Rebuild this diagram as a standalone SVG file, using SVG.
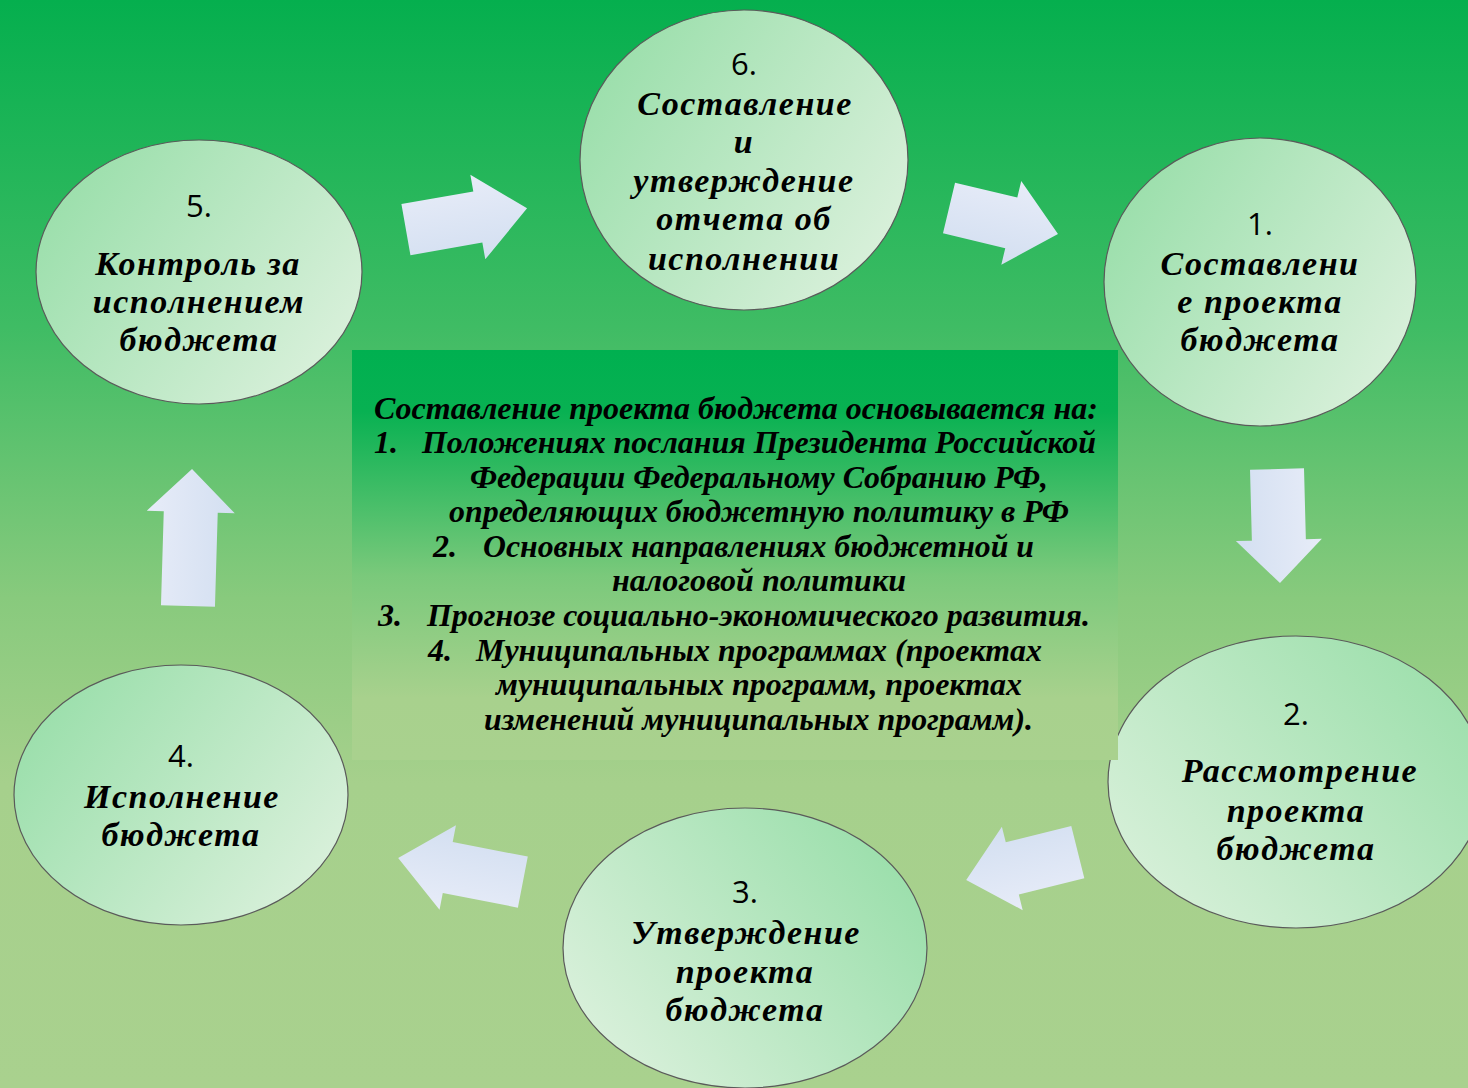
<svg xmlns="http://www.w3.org/2000/svg" width="1468" height="1088" viewBox="0 0 1468 1088">
<defs>
<linearGradient id="bg" x1="0" y1="0" x2="0" y2="1">
<stop offset="0" stop-color="#05af4e"/>
<stop offset="0.3" stop-color="#3fbc64"/>
<stop offset="0.55" stop-color="#88ca7d"/>
<stop offset="0.72" stop-color="#a6d08c"/>
<stop offset="1" stop-color="#a9d18e"/>
</linearGradient>
<linearGradient id="box" x1="0" y1="0" x2="0" y2="1">
<stop offset="0" stop-color="#00b050"/>
<stop offset="0.15" stop-color="#08b152"/>
<stop offset="0.55" stop-color="#7ac97b"/>
<stop offset="0.85" stop-color="#a8d18d"/>
<stop offset="1" stop-color="#a9d18e"/>
</linearGradient>
<linearGradient id="elR" x1="0" y1="0.2" x2="1" y2="0.8">
<stop offset="0" stop-color="#98dea9"/>
<stop offset="1" stop-color="#dcf1dd"/>
</linearGradient>
<linearGradient id="elL" x1="1" y1="0.2" x2="0" y2="0.8">
<stop offset="0" stop-color="#98dea9"/>
<stop offset="1" stop-color="#dcf1dd"/>
</linearGradient>
<linearGradient id="el2" x1="1" y1="0.2" x2="0" y2="0.9">
<stop offset="0" stop-color="#9cdfab"/>
<stop offset="1" stop-color="#dbf1dc"/>
</linearGradient>
<linearGradient id="arr" x1="0" y1="0" x2="0" y2="1">
<stop offset="0" stop-color="#e7ecf8"/>
<stop offset="1" stop-color="#d3dff1"/>
</linearGradient>
<style>
.el{stroke:#5a5a5a;stroke-width:1.2}
.num{font-family:"Open Sans","Liberation Sans",sans-serif;font-size:31px;fill:#000;text-anchor:middle}
.lbl{font-family:"Liberation Serif","DejaVu Serif",serif;font-weight:bold;font-style:italic;font-size:34px;fill:#000;text-anchor:middle;letter-spacing:1.5px}
.ctr{font-family:"Liberation Serif","DejaVu Serif",serif;font-weight:bold;font-style:italic;font-size:32px;fill:#000}
.ar{fill:url(#arr)}
</style>
</defs>
<rect x="0" y="0" width="1468" height="1088" fill="url(#bg)"/>

<g id="node2">
<ellipse class="el" cx="1296" cy="782" rx="188" ry="146" fill="url(#el2)"/>
<text class="num" x="1296" y="725">2.</text>
<text class="lbl" x="1300" y="782">Рассмотрение</text>
<text class="lbl" x="1296" y="822">проекта</text>
<text class="lbl" x="1296" y="860">бюджета</text>
</g>

<g id="center">
<rect x="352" y="350" width="766" height="410" fill="url(#box)"/>
<text class="ctr" x="374" y="419" textLength="724" lengthAdjust="spacingAndGlyphs">Составление проекта бюджета основывается на:</text>
<text class="ctr" x="374" y="453">1.</text>
<text class="ctr" x="422" y="453" textLength="674" lengthAdjust="spacingAndGlyphs">Положениях послания Президента Российской</text>
<text class="ctr" x="470" y="488" textLength="578" lengthAdjust="spacingAndGlyphs">Федерации Федеральному Собранию РФ,</text>
<text class="ctr" x="449" y="522" textLength="620" lengthAdjust="spacingAndGlyphs">определяющих бюджетную политику в РФ</text>
<text class="ctr" x="433" y="557">2.</text>
<text class="ctr" x="483" y="557" textLength="551" lengthAdjust="spacingAndGlyphs">Основных направлениях бюджетной и</text>
<text class="ctr" x="612" y="591" textLength="294" lengthAdjust="spacingAndGlyphs">налоговой политики</text>
<text class="ctr" x="378" y="626">3.</text>
<text class="ctr" x="427" y="626" textLength="663" lengthAdjust="spacingAndGlyphs">Прогнозе социально-экономического развития.</text>
<text class="ctr" x="428" y="661">4.</text>
<text class="ctr" x="476" y="661" textLength="566" lengthAdjust="spacingAndGlyphs">Муниципальных программах (проектах</text>
<text class="ctr" x="496" y="695" textLength="526" lengthAdjust="spacingAndGlyphs">муниципальных программ, проектах</text>
<text class="ctr" x="484" y="730" textLength="549" lengthAdjust="spacingAndGlyphs">изменений муниципальных программ).</text>
</g>

<g id="node6">
<ellipse class="el" cx="744" cy="160" rx="164" ry="150" fill="url(#elR)"/>
<text class="num" x="744" y="75">6.</text>
<text class="lbl" x="745" y="115">Составление</text>
<text class="lbl" x="744" y="153">и</text>
<text class="lbl" x="744" y="192">утверждение</text>
<text class="lbl" x="744" y="230">отчета об</text>
<text class="lbl" x="744" y="270">исполнении</text>
</g>

<g id="node1">
<ellipse class="el" cx="1260" cy="282" rx="156" ry="144" fill="url(#elR)"/>
<text class="num" x="1260" y="235">1.</text>
<text class="lbl" x="1260" y="275">Составлени</text>
<text class="lbl" x="1260" y="313">е проекта</text>
<text class="lbl" x="1260" y="351">бюджета</text>
</g>

<g id="node3">
<ellipse class="el" cx="745" cy="948" rx="182" ry="140" fill="url(#elL)"/>
<text class="num" x="745" y="903">3.</text>
<text class="lbl" x="746" y="944">Утверждение</text>
<text class="lbl" x="745" y="983">проекта</text>
<text class="lbl" x="745" y="1021">бюджета</text>
</g>

<g id="node4">
<ellipse class="el" cx="181" cy="795" rx="167" ry="130" fill="url(#elR)"/>
<text class="num" x="181" y="767">4.</text>
<text class="lbl" x="182" y="808">Исполнение</text>
<text class="lbl" x="181" y="846">бюджета</text>
</g>

<g id="node5">
<ellipse class="el" cx="199" cy="272" rx="163" ry="132" fill="url(#elR)"/>
<text class="num" x="199" y="217">5.</text>
<text class="lbl" x="198" y="275">Контроль за</text>
<text class="lbl" x="199" y="313">исполнением</text>
<text class="lbl" x="199" y="351">бюджета</text>
</g>

<g id="connectors">
<path class="ar" transform="translate(466.5,219) rotate(-10)" d="M-61.5,-26 L11.5,-26 L11.5,-43 L61.5,0 L11.5,43 L11.5,26 L-61.5,26 Z"/>
<path class="ar" transform="translate(1003.5,221) rotate(13.4)" d="M-56,-26 L8,-26 L8,-43 L56,0 L8,43 L8,26 L-56,26 Z"/>
<path class="ar" transform="translate(1278.5,526) rotate(88.5)" d="M-57,-27 L14,-27 L14,-43 L57,0 L14,43 L14,27 L-57,27 Z"/>
<path class="ar" transform="translate(1022,866) rotate(166)" d="M-57.5,-27 L10,-27 L10,-43 L57.5,0 L10,43 L10,27 L-57.5,27 Z"/>
<path class="ar" transform="translate(460.5,870) rotate(191)" d="M-63.5,-26 L13,-26 L13,-43 L63.5,0 L13,43 L13,26 L-63.5,26 Z"/>
<path class="ar" transform="translate(190,537.5) rotate(-88.3)" d="M-68.5,-27 L25.5,-27 L25.5,-44 L68.5,0 L25.5,44 L25.5,27 L-68.5,27 Z"/>
</g>
</svg>
